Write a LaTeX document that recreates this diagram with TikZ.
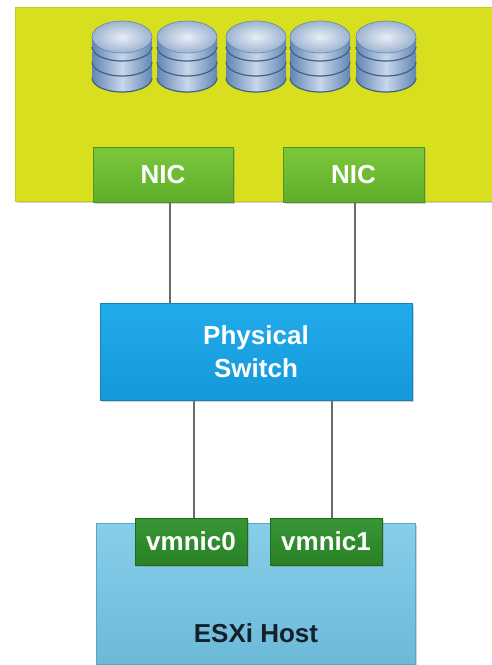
\documentclass[tikz,border=0pt]{standalone}
\usepackage{fontspec}
\setmainfont{Liberation Sans}
\usetikzlibrary{shadows}

\definecolor{panelYellow}{HTML}{D8DF1E}
\definecolor{panelYellowDark}{HTML}{C4CB16}
\definecolor{nicTop}{HTML}{7CC83C}
\definecolor{nicBottom}{HTML}{5FAE2A}
\definecolor{nicEdge}{HTML}{4E9424}
\definecolor{switchTop}{HTML}{22ABEC}
\definecolor{switchBottom}{HTML}{1499DA}
\definecolor{switchEdge}{HTML}{1282BC}
\definecolor{hostTop}{HTML}{86CFEA}
\definecolor{hostBottom}{HTML}{6CB9D8}
\definecolor{hostEdge}{HTML}{5AA6C6}
\definecolor{vmTop}{HTML}{379634}
\definecolor{vmBottom}{HTML}{2A8127}
\definecolor{vmEdge}{HTML}{1F6A1D}
\definecolor{wire}{HTML}{6A6A6A}
\definecolor{hostText}{HTML}{16202C}
\definecolor{diskDark}{HTML}{6286B2}
\definecolor{diskMid}{HTML}{C8D7EB}
\definecolor{diskRim}{HTML}{40608A}
\definecolor{diskFaceLight}{HTML}{E8EEF7}
\definecolor{diskFaceDark}{HTML}{9DB3CF}

\tikzset{
  box/.style={rectangle, inner sep=0pt, anchor=center,
    drop shadow={shadow xshift=2pt, shadow yshift=-2pt, opacity=0.35}},
  panel/.style={box, fill=panelYellow, draw=panelYellowDark, line width=0.8pt},
  nicbox/.style={box, top color=nicTop, bottom color=nicBottom, draw=nicEdge,
    line width=0.8pt, minimum height=55pt},
  switchbox/.style={box, top color=switchTop, bottom color=switchBottom,
    draw=switchEdge, line width=0.8pt},
  hostbox/.style={box, top color=hostTop, bottom color=hostBottom,
    draw=hostEdge, line width=0.8pt},
  vmbox/.style={box, top color=vmTop, bottom color=vmBottom, draw=vmEdge,
    line width=0.8pt, minimum width=112pt, minimum height=47pt},
  whitelabel/.style={font=\fontsize{26}{33}\selectfont\bfseries, text=white},
  darklabel/.style={font=\fontsize{26}{33}\selectfont\bfseries, text=hostText},
  wireline/.style={draw=wire, line width=2pt},
  diskside/.style={left color=diskDark, right color=diskDark, middle color=diskMid},
  diskrim/.style={draw=diskRim, line width=1.2pt},
}

% one platter of a disk stack: #1 = centre x, #2 = top y, #3 = bottom y
\newcommand{\platter}[3]{%
  \path[diskside] ({#1-30},#2) -- ({#1-30},#3)
    arc[start angle=180, end angle=360, x radius=30pt, y radius=14pt]
    -- ({#1+30},#2) -- cycle;
  \draw[diskrim] ({#1-30},#3)
    arc[start angle=180, end angle=360, x radius=30pt, y radius=14pt];
}
% a stack of three platters with its top face
\newcommand{\diskstack}[1]{%
  \platter{#1}{66}{78}
  \platter{#1}{52}{62}
  \platter{#1}{37}{47}
  \shade[inner color=diskFaceLight, outer color=diskFaceDark]
    (#1,37) ellipse[x radius=30pt, y radius=16pt];
  \draw[diskDark, line width=0.6pt] (#1,37) ellipse[x radius=30pt, y radius=16pt];
}

\begin{document}
\begin{tikzpicture}[x=1pt, y=-1pt]
  \useasboundingbox (0,0) rectangle (492,665);

  % storage array
  \node[panel, minimum width=478pt, minimum height=194pt] (array) at (254,104) {};
  \foreach \cx in {122,187,256,320,386} { \diskstack{\cx} }
  \node[nicbox, minimum width=140pt] (nicA) at (163,174.5) {};
  \node[nicbox, minimum width=141pt] (nicB) at (353.5,174.5) {};
  \node[whitelabel] at (nicA) {NIC};
  \node[whitelabel] at (nicB) {NIC};

  % physical switch
  \node[switchbox, minimum width=312pt, minimum height=97pt, whitelabel,
        align=center] (sw) at (256,351.5) {Physical\\Switch};

  % ESXi host with its uplinks
  \node[hostbox, minimum width=319pt, minimum height=141pt] (host) at (255.5,593.5) {};
  \node[darklabel] (hostlabel) at (256,633) {ESXi Host};
  \node[vmbox, whitelabel] (vm0) at (191,541.5) {vmnic0};
  \node[vmbox, whitelabel] (vm1) at (326,541.5) {vmnic1};

  % cabling
  \draw[wireline] ([xshift=7pt]nicA.south) -- ([xshift=7pt]nicA.south |- sw.north);
  \draw[wireline] ([xshift=1.5pt]nicB.south) -- ([xshift=1.5pt]nicB.south |- sw.north);
  \draw[wireline] ([xshift=3pt]vm0.north |- sw.south) -- ([xshift=3pt]vm0.north);
  \draw[wireline] ([xshift=6pt]vm1.north |- sw.south) -- ([xshift=6pt]vm1.north);
\end{tikzpicture}
\end{document}
